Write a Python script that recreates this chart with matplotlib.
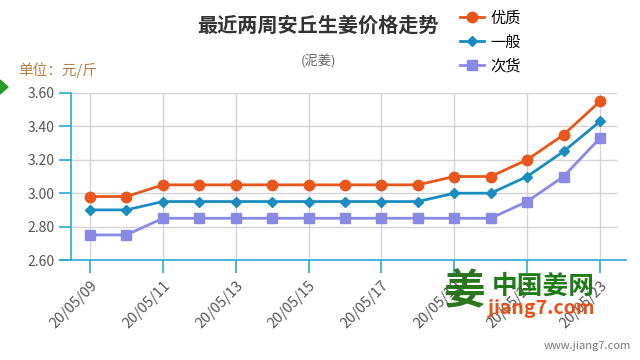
import matplotlib
matplotlib.use('Agg')
import matplotlib.pyplot as plt
from matplotlib.lines import Line2D
from matplotlib.patches import Polygon

plt.rcParams['font.family'] = ['Noto Sans CJK SC', 'DejaVu Sans']

# 数据
dates = ['20/05/09', '20/05/10', '20/05/11', '20/05/12', '20/05/13', '20/05/14',
         '20/05/15', '20/05/16', '20/05/17', '20/05/18', '20/05/19', '20/05/20',
         '20/05/21', '20/05/22', '20/05/23']
youzhi = [2.98, 2.98, 3.05, 3.05, 3.05, 3.05, 3.05, 3.05, 3.05, 3.05, 3.10, 3.10, 3.20, 3.35, 3.55]
yiban = [2.90, 2.90, 2.95, 2.95, 2.95, 2.95, 2.95, 2.95, 2.95, 2.95, 3.00, 3.00, 3.10, 3.25, 3.43]
cihuo = [2.75, 2.75, 2.85, 2.85, 2.85, 2.85, 2.85, 2.85, 2.85, 2.85, 2.85, 2.85, 2.95, 3.10, 3.33]
yticks = [2.60, 2.80, 3.00, 3.20, 3.40, 3.60]

c_orange = '#e8561c'
c_blue = '#1a8cc0'
c_purple = '#8a8ae6'
c_axis = '#2aa8d6'
c_grid = '#d4d4d4'

fig = plt.figure(figsize=(6.4, 3.6), dpi=100)
# axes 从 x=60 到 626 像素, y 从 93 到 260
ax = fig.add_axes([60 / 640, 1 - 260 / 360, 566 / 640, 167 / 360])

x = list(range(len(dates)))
ax.set_xlim(-30 / 36.43, 14 + 26 / 36.43)
ax.set_ylim(2.60, 3.60)

xl = -19 / 36.43
xr = 14 + 17 / 36.43
ax.hlines(yticks[1:], xl, xr, color=c_grid, lw=1, zorder=1)
for i in x[::2]:
    ax.axvline(i, color=c_grid, lw=1, zorder=1)

ax.plot(x, youzhi, color=c_orange, lw=2, marker='o', ms=7.5, zorder=3)
ax.plot(x, yiban, color=c_blue, lw=2, marker='D', ms=5.5, zorder=3)
ax.plot(x, cihuo, color=c_purple, lw=2, marker='s', ms=7.5, zorder=3)

for s in ['top', 'right']:
    ax.spines[s].set_visible(False)
ax.spines['left'].set_position(('data', xl))
ax.spines['left'].set_color(c_axis)
ax.spines['bottom'].set_color(c_axis)
ax.spines['left'].set_linewidth(1.2)
ax.spines['bottom'].set_linewidth(1.2)

ax.set_yticks(yticks)
ax.set_yticklabels(['%.2f' % v for v in yticks])
ax.set_xticks(x[::2])
ax.set_xticklabels(dates[::2], rotation=45, ha='right', rotation_mode='anchor')
ax.tick_params(axis='y', colors=c_axis, labelcolor='#555555', length=9, width=1.2,
               labelsize=10, pad=3)
ax.tick_params(axis='x', colors=c_axis, labelcolor='#555555', length=9, width=1.2,
               labelsize=10.5, pad=4)

fig.text(318 / 640, 1 - 25 / 360, '最近两周安丘生姜价格走势', ha='center', va='center',
         fontsize=14.5, fontweight='bold', color='#333333')
fig.text(318 / 640, 1 - 62 / 360, '(泥姜)', ha='center', va='center',
         fontsize=9.5, color='#666666')
fig.text(18 / 640, 1 - 70 / 360, '单位：元/斤', ha='left', va='center',
         fontsize=10.5, color='#b87a3e')

handles = [Line2D([], [], color=c_orange, lw=2, marker='o', ms=7.5),
           Line2D([], [], color=c_blue, lw=2, marker='D', ms=5.5),
           Line2D([], [], color=c_purple, lw=2, marker='s', ms=7.5)]
fig.legend(handles, ['优质', '一般', '次货'], loc='upper left',
           bbox_to_anchor=(452 / 640, 1 - 2 / 360), frameon=False, fontsize=11,
           handlelength=1.6, handletextpad=0.4, labelspacing=0.45, borderpad=0)

# 水印
fig.text(464 / 640, 1 - 292 / 360, '姜', ha='center', va='center', fontsize=30,
         fontweight='bold', color='#1e6e12', alpha=0.95)
fig.text(543 / 640, 1 - 286 / 360, '中国姜网', ha='center', va='center', fontsize=18.5,
         fontweight='bold', color='#1f7a18')
fig.text(541 / 640, 1 - 308 / 360, 'jiang7.com', ha='center', va='center', fontsize=14,
         fontweight='bold', fontstyle='italic', color='#e8501a')
fig.text(631 / 640, 1 - 346 / 360, 'www.jiang7.com', ha='right', va='center',
         fontsize=8, color='#777777')

fig.patches.append(Polygon([[0, 1 - 80 / 360], [8 / 640, 1 - 87 / 360], [0, 1 - 94 / 360]],
                           closed=True, transform=fig.transFigure, color='#2a9a2a'))

fig.savefig('out.png', dpi=100)
